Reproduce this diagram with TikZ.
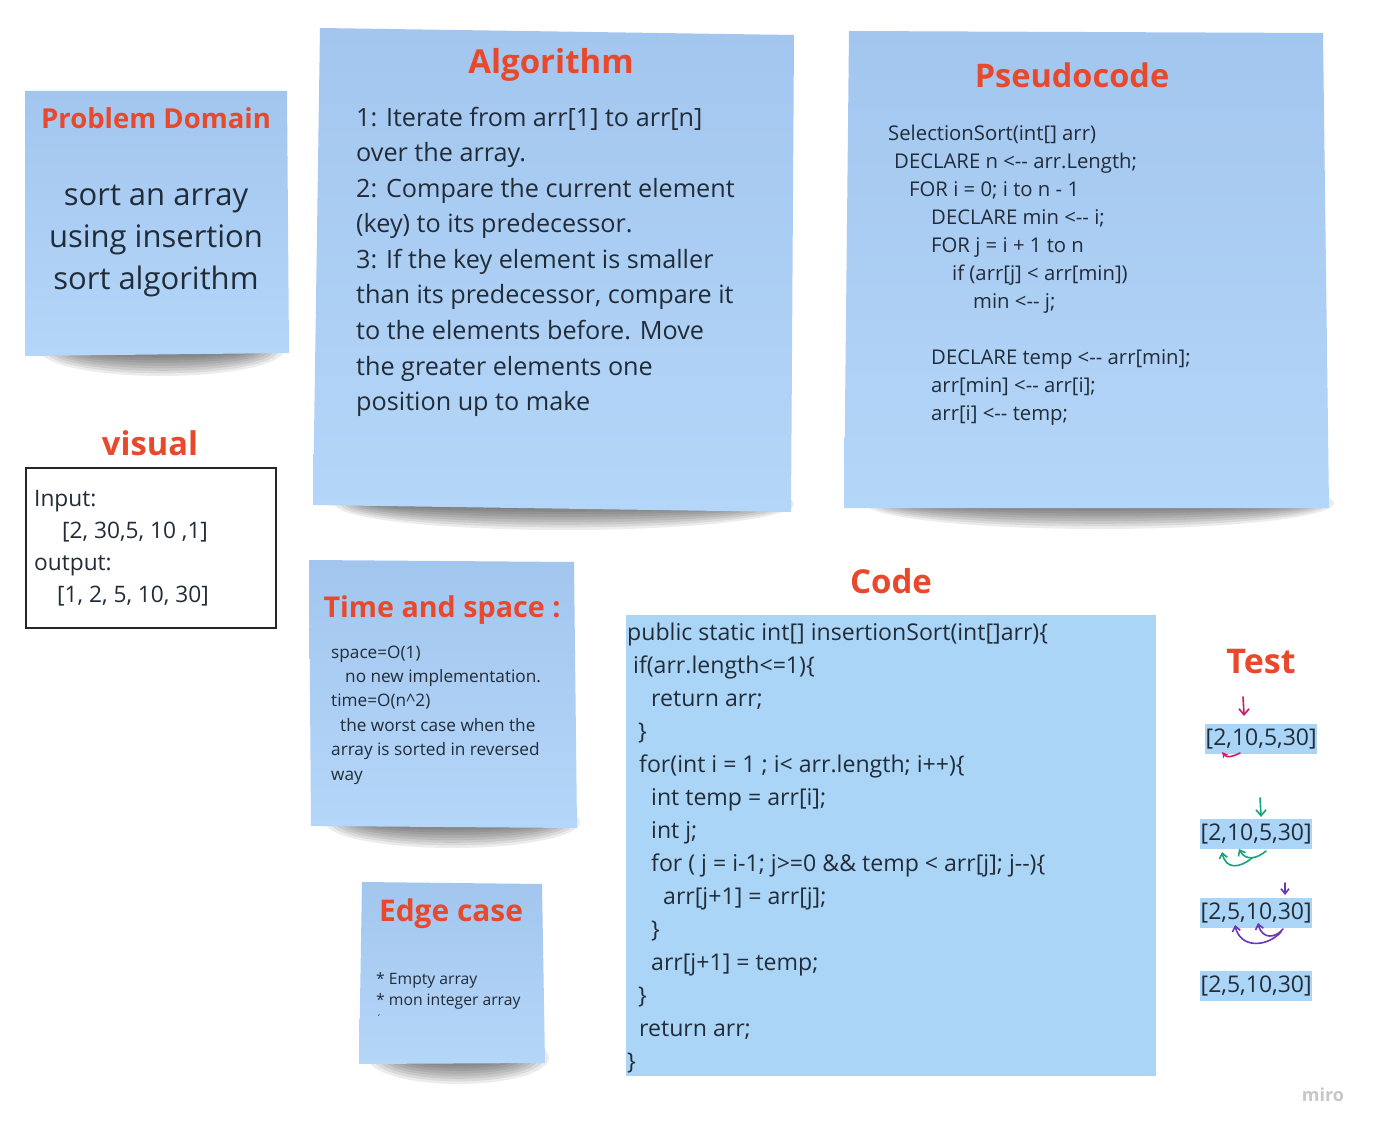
\documentclass[tikz,border=0pt]{standalone}
\usepackage{fontspec}
\setmainfont[Ligatures=TeXOff]{Open Sans}
\usetikzlibrary{arrows.meta}
\definecolor{titlered}{HTML}{E8492C}
\definecolor{ink}{HTML}{222C38}
\definecolor{notetop}{HTML}{A3C6EF}
\definecolor{notebot}{HTML}{B4D6F8}
\definecolor{codeblue}{HTML}{AAD5F7}
\definecolor{mag}{HTML}{D5166A}
\definecolor{grn}{HTML}{17A27C}
\definecolor{purp}{HTML}{6B35B8}
\tikzset{
  ttl/.style={text=titlered, anchor=base, inner sep=0pt, font=\bfseries\fontsize{#1}{#1}\selectfont},
  txt/.style={text=ink, anchor=base west, inner sep=0pt, font=\fontsize{#1}{#1}\selectfont},
  ctxt/.style={text=ink, anchor=base, inner sep=0pt, font=\fontsize{#1}{#1}\selectfont},
  note/.style={top color=notetop, bottom color=notebot},
  arr/.style={text=ink, fill=codeblue, anchor=west, inner xsep=0.5pt, inner ysep=0pt, minimum height=30pt, font=\fontsize{23}{23}\selectfont},
  pen/.style={line width=1.6pt, line cap=round, line join=round},
}
\newcommand\shadowband[3]{%
  \foreach \k in {0,...,8}
    \fill[black, opacity=0.075] ({(#1+#2)/2},#3) ellipse [x radius={(#2-#1)/2-\k*5}, y radius={26-\k*2.6}];
}
\begin{document}
\begin{tikzpicture}[x=1pt,y=-1pt]
\useasboundingbox (0,0) rectangle (1377,1134);
\fill[white] (0,0) rectangle (1377,1134);

% shadows
\shadowband{40}{284}{350}
\shadowband{335}{794}{504}
\shadowband{865}{1334}{503}
\shadowband{325}{580}{822}
\shadowband{368}{549}{1058}

% sticky notes
\shade[note] (25,91) -- (287,91) -- (289,353) -- (25,356) -- cycle;
\shade[note] (320,28) -- (794,35) -- (791,512) -- (313,505) -- cycle;
\shade[note] (849,31) -- (1323,33) -- (1329,508) -- (844,508) -- cycle;
\shade[note] (309,560) -- (574,562) -- (577,828) -- (311,826) -- cycle;
\shade[note] (362,882) -- (542,884) -- (545,1063) -- (359,1064) -- cycle;

% Problem Domain
\node[ttl=27.5] (pdt) at (156,128.5) {Problem Domain};
\foreach \t [count=\i from 0] in {{sort an array},{using insertion},{sort algorithm}}
  \node[ctxt=31, name=pd\i] at (156,{206+42*\i}) {\t};

% Algorithm
\node[ttl=33] (algt) at (551,73.5) {Algorithm};
\foreach \t [count=\i from 0] in {{1: Iterate from arr[1] to arr[n]},{over the array.},{2: Compare the current element},{(key) to its predecessor.},{3: If the key element is smaller},{than its predecessor, compare it},{to the elements before. Move},{the greater elements one},{position up to make}}
  \node[txt=25.2, name=alg\i] at (356,{126.5+35.5*\i}) {\t};

% Pseudocode
\node[ttl=32.5] (pst) at (1072,88) {Pseudocode};
\foreach \x/\t [count=\i from 0] in {888/{SelectionSort(int[] arr)},894/{DECLARE n <-- arr.Length;},909/{FOR i = 0; i to n - 1},931/{DECLARE min <-- i;},931/{FOR j = i + 1 to n},952/{if (arr[j] < arr[min])},973/{min <-- j;},931/{},931/{DECLARE temp <-- arr[min];},931/{arr[min] <-- arr[i];},931/{arr[i] <-- temp;}}
  \node[txt=20.3, name=ps\i] at (\x,{140.5+28*\i}) {\t};

% visual
\node[ttl=32.7] (vist) at (150,455.5) {visual};
\draw[line width=1.5pt, draw=black!85] (26,468) rectangle (276,628);
\foreach \x/\t [count=\i from 0] in {34/{Input:},62/{[2, 30,5, 10 ,1]},34/{output:},57/{[1, 2, 5, 10, 30]}}
  \node[txt=22.7, name=vis\i] at (\x,{506+32*\i}) {\t};

% Time and space
\node[ttl=28.7] (tst) at (442,617.5) {Time and space :};
\foreach \x/\t [count=\i from 0] in {331/{space=O(1)},345/{no new implementation.},331/{time=O(n\textasciicircum 2)},340/{the worst case when the},331/{array is sorted in reversed},331/{way}}
  \node[txt=17.2, name=ts\i] at (\x,{658+24.4*\i}) {\t};

% Edge case
\node[ttl=29.9] (edt) at (451,921.5) {Edge case};
\node[txt=15.7] (ed0) at (376,984.5) {* Empty array};
\node[txt=15.7] (ed1) at (376,1005.5) {* mon integer array};
\node[txt=10] (ed2) at (376,1022) {´};

% Code
\node[ttl=33] (codet) at (891,593.5) {Code};
\fill[codeblue] (626,615) rectangle (1156,1076);
\foreach \x/\t [count=\i from 0] in {627/{public static int[] insertionSort(int[]arr)\{},633/{if(arr.length<=1)\{},651/{return arr;},638/{\}},639/{for(int i = 1 ; i< arr.length; i++)\{},651/{int temp = arr[i];},651/{int j;},651/{for ( j = i-1; j>=0 \&\& temp < arr[j]; j--)\{},663/{arr[j+1] = arr[j];},651/{\}},651/{arr[j+1] = temp;},638/{\}},639/{return arr;},627/{\}}}
  \node[txt=23.1, name=code\i] at (\x,{640.5+33*\i}) {\t};

% Test
\node[ttl=34] (testt) at (1261,673) {Test};
\node[arr] (t1) at (1205,739) {\raisebox{-3pt}{[2,10,5,30]}};
\node[arr] (t2) at (1200,834) {\raisebox{-3pt}{[2,10,5,30]}};
\node[arr] (t3) at (1200,913) {\raisebox{-3pt}{[2,5,10,30]}};
\node[arr] (t4) at (1200,986) {\raisebox{-3pt}{[2,5,10,30]}};

% hand-drawn marks
\draw[pen, mag, -{Straight Barb[length=6pt,width=10pt]}] (1243,697) .. controls (1244,705) .. (1244,716);
\draw[pen, mag, -{Stealth[length=6pt,width=6pt]}] (1240,753) .. controls (1232,757) and (1227,758) .. (1222,752);
\draw[pen, grn, -{Straight Barb[length=6pt,width=10pt]}] (1260,798) .. controls (1261,807) .. (1261,817);
\draw[pen, grn, -{Straight Barb[length=5pt,width=8pt]}] (1266,851) .. controls (1258,858) and (1246,862) .. (1239,849);
\draw[pen, grn, -{Straight Barb[length=5pt,width=8pt]}] (1252,858) .. controls (1240,868) and (1226,870) .. (1222,852);
\draw[pen, purp, -{Straight Barb[length=5pt,width=8pt]}] (1285,883) .. controls (1285,889) .. (1285,895);
\draw[pen, purp, -{Straight Barb[length=5pt,width=8pt]}] (1283,929) .. controls (1276,938) and (1262,940) .. (1258,923);
\draw[pen, purp, -{Straight Barb[length=5pt,width=8pt]}] (1281,932) .. controls (1266,948) and (1240,948) .. (1235,925);

% miro logo
\node[text=black!22, font=\bfseries\fontsize{18}{18}\selectfont, inner sep=0pt] (miro) at (1323,1095) {miro};
\end{tikzpicture}
\end{document}
